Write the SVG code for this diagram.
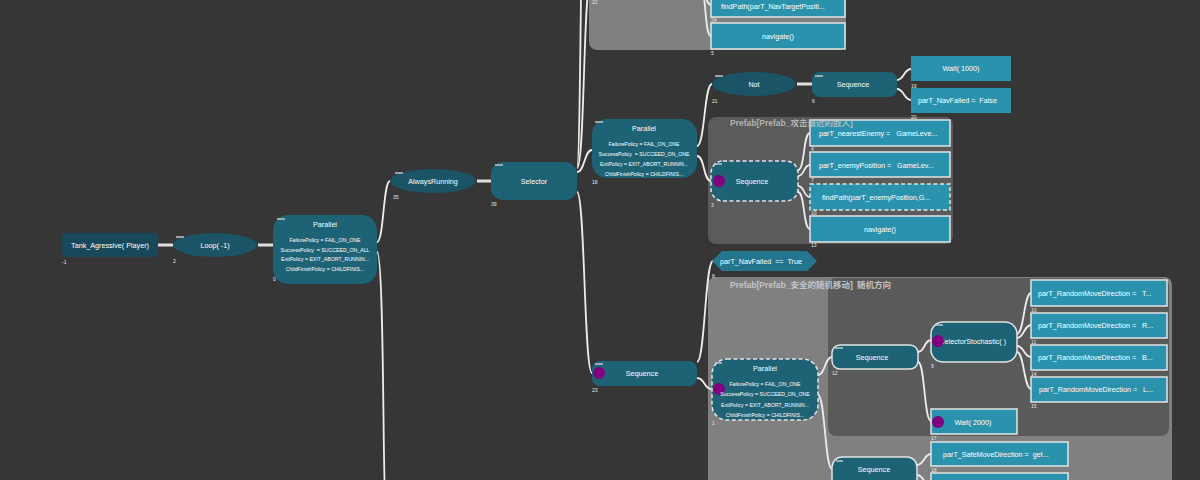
<svg xmlns="http://www.w3.org/2000/svg" width="1200" height="480" viewBox="0 0 1200 480" xml:space="preserve">
<style>
.comp{fill:#1e6276}
.ell{fill:#1b5466}
.act{fill:#2b92ae}
.bd{stroke:#e4e4e4;stroke-width:1.5}
.dash{stroke:#e4e4e4;stroke-width:1.5;stroke-dasharray:4 2.5}
.t{fill:#fff;font-family:"Liberation Sans",Arial,sans-serif;font-size:7.2px;text-anchor:middle;dominant-baseline:central;white-space:pre}
.tl{fill:#fff;font-family:"Liberation Sans",Arial,sans-serif;font-size:7.2px;dominant-baseline:central;white-space:pre}
.p{fill:#fff;font-family:"Liberation Sans",Arial,sans-serif;font-size:5.2px;text-anchor:middle;dominant-baseline:central;white-space:pre}
.n{fill:#e8e8e8;font-family:"Liberation Sans",Arial,sans-serif;font-size:5px}
.bar{stroke:#d8d8d8;stroke-width:1.3}
.dot{fill:#800080}
.ttl{fill:#c4c4c4;font-family:"Liberation Sans","Noto Sans CJK SC",sans-serif;font-size:8.5px;font-weight:bold;dominant-baseline:central}
.c{fill:none;stroke:#ececec;stroke-width:1.8}
.h{fill:none;stroke:#e0e0e0;stroke-width:3}
</style>
<rect width="1200" height="480" fill="#363636"/>

<!-- prefab backgrounds -->
<g id="prefab-top">
<rect x="589" y="-20" width="257" height="70" rx="8" fill="#808080"/>
<text class="n" x="592" y="4">22</text>
</g>
<g id="prefab-attack">
<rect x="708" y="117" width="245" height="127" rx="8" fill="#5b5b5b"/>
</g>
<g id="prefab-safe">
<rect x="708" y="277" width="464" height="220" rx="8" fill="#808080"/>
<rect x="828" y="278" width="341" height="158" rx="8" fill="#5a5a5a"/>
</g>

<g id="connectors">
<path class="h" d="M158,245 H173"/>
<path class="h" d="M258,245 H273"/>
<path class="h" d="M477,181 H491"/>
<path class="h" d="M797,84 H812"/>
<path class="c" d="M377,242 C384,242 383,181 390,181"/>
<path class="c" d="M377,252 C384,252 383,480 385,490"/>
<path class="c" d="M577,168 C585,168 583,-20 591,-20"/>
<path class="c" d="M577,166 C582,166 580,-300 591,-300"/>
<path class="c" d="M577,172 C585,172 584,150 592,150"/>
<path class="c" d="M577,192 C585,192 584,373 592,373"/>
<path class="c" d="M700,-14 C706,-14 705,5 711,5"/>
<path class="c" d="M700,-12 C707,-12 704,36 711,36"/>
<path class="c" d="M697,146 C705,146 704,84 712,84"/>
<path class="c" d="M697,156 C705,156 703,181 711,181"/>
<path class="c" d="M897,80 C904,80 904,69 911,69"/>
<path class="c" d="M897,89 C904,89 904,100 911,100"/>
<path class="c" d="M798,170 C805,170 803,133 810,133"/>
<path class="c" d="M798,176 C805,176 803,165 810,165"/>
<path class="c" d="M798,186 C805,186 803,197 810,197"/>
<path class="c" d="M798,192 C805,192 803,229 810,229"/>
<path class="c" d="M697,362 C705,362 705,261 713,261"/>
<path class="c" d="M697,378 C705,378 704,389 711,389"/>
<path class="c" d="M818,375 C825,375 825,357 832,357"/>
<path class="c" d="M818,395 C825,395 825,469 832,469"/>
<path class="c" d="M918,352 C925,352 924,340 931,340"/>
<path class="c" d="M918,362 C925,362 924,421 931,421"/>
<path class="c" d="M1017,334 C1024,334 1024,293 1031,293"/>
<path class="c" d="M1017,338 C1024,338 1024,325 1031,325"/>
<path class="c" d="M1017,346 C1024,346 1024,357 1031,357"/>
<path class="c" d="M1017,352 C1024,352 1024,389 1031,389"/>
<path class="c" d="M917,465 C924,465 924,454 931,454"/>
<path class="c" d="M917,475 C924,475 924,486 931,486"/>
</g>

<g id="n-tank">
<rect x="62" y="233" width="96" height="24" rx="5" fill="#17495a"/>
<text class="t" x="110" y="245">Tank_Agressive( Player)</text>
<text class="n" x="62" y="264">-1</text>
</g>
<g id="n-loop">
<ellipse cx="215" cy="245" rx="42" ry="12" class="ell"/>
<line class="bar" x1="176" y1="237" x2="184" y2="237"/>
<text class="t" x="215" y="245">Loop( -1)</text>
<text class="n" x="173" y="263">2</text>
</g>
<g id="n-parallel0">
<rect x="273" y="215" width="104" height="69" rx="15" class="comp"/>
<line class="bar" x1="277" y1="219" x2="285" y2="219"/>
<text class="t" x="325" y="224">Parallel</text>
<text class="p" x="325" y="240">FailurePolicy = FAIL_ON_ONE</text>
<text class="p" x="325" y="250">SuccessPolicy  = SUCCEED_ON_ALL</text>
<text class="p" x="325" y="259">ExitPolicy = EXIT_ABORT_RUNNIN...</text>
<text class="p" x="325" y="269">ChildFinishPolicy = CHILDFINIS...</text>
<text class="n" x="273" y="281">0</text>
</g>
<g id="n-alwaysrunning">
<ellipse cx="433" cy="181" rx="43" ry="12" class="ell"/>
<line class="bar" x1="395" y1="173" x2="403" y2="173"/>
<text class="t" x="433" y="181">AlwaysRunning</text>
<text class="n" x="393" y="199">35</text>
</g>
<g id="n-selector">
<rect x="491" y="162" width="86" height="38" rx="12" class="comp"/>
<line class="bar" x1="495" y1="165" x2="503" y2="165"/>
<text class="t" x="534" y="181">Selector</text>
<text class="n" x="491" y="206">39</text>
</g>

<g id="n-findpath24">
<rect x="711" y="-10" width="134" height="27" class="act bd"/>
<text class="tl" x="721" y="6">findPath(parT_NavTargetPositi...</text>
<text class="n" x="711" y="22">24</text>
</g>
<g id="n-navigate5">
<rect x="711" y="23" width="134" height="26" class="act bd"/>
<text class="t" x="778" y="36">navigate()</text>
<text class="n" x="711" y="55">5</text>
</g>

<g id="n-not">
<ellipse cx="754" cy="84" rx="42" ry="12" class="ell"/>
<line class="bar" x1="715" y1="76" x2="723" y2="76"/>
<text class="t" x="754" y="84">Not</text>
<text class="n" x="712" y="103">21</text>
</g>
<g id="n-seq6">
<rect x="812" y="72" width="85" height="25" rx="8" class="comp"/>
<line class="bar" x1="815" y1="76" x2="823" y2="76"/>
<text class="t" x="853" y="84">Sequence</text>
<text class="n" x="812" y="103">6</text>
</g>
<g id="n-wait1000">
<rect x="911" y="56" width="100" height="25" class="act"/>
<text class="t" x="961" y="68">Wait( 1000)</text>
<text class="n" x="911" y="88">19</text>
</g>
<g id="n-navfailedfalse">
<rect x="911" y="88" width="100" height="25" class="act"/>
<text class="tl" x="918" y="100">parT_NavFailed =  False</text>
<text class="n" x="911" y="119">20</text>
</g>

<g id="n-parallel18">
<rect x="592" y="119" width="105" height="59" rx="15" class="comp"/>
<line class="bar" x1="595" y1="122" x2="603" y2="122"/>
<text class="t" x="644" y="128">Parallel</text>
<text class="p" x="644" y="144">FailurePolicy = FAIL_ON_ONE</text>
<text class="p" x="644" y="154">SuccessPolicy  = SUCCEED_ON_ONE</text>
<text class="p" x="644" y="164">ExitPolicy = EXIT_ABORT_RUNNIN...</text>
<text class="p" x="644" y="174">ChildFinishPolicy = CHILDFINIS...</text>
<text class="n" x="592" y="184">18</text>
</g>
<g id="n-seq3">
<rect x="711" y="161" width="87" height="40" rx="12" class="comp dash"/>
<line class="bar" x1="714" y1="164" x2="722" y2="164"/>
<circle cx="719" cy="181" r="6" class="dot"/>
<text class="t" x="752" y="181">Sequence</text>
<text class="n" x="711" y="207">3</text>
</g>
<g id="n-nearestenemy">
<rect x="810" y="120" width="140" height="26" class="act bd"/>
<text class="tl" x="819" y="133">parT_nearestEnemy =   GameLeve...</text>
<text class="n" x="811" y="151">4</text>
</g>
<g id="n-enemyposition">
<rect x="810" y="152" width="140" height="25" class="act bd"/>
<text class="tl" x="819" y="165">parT_enemyPosition =   GameLev...</text>
<text class="n" x="811" y="182">7</text>
</g>
<g id="n-findpath10">
<rect x="810" y="184" width="140" height="26" class="act dash"/>
<text class="tl" x="822" y="197">findPath(parT_enemyPosition,G...</text>
<text class="n" x="811" y="215">10</text>
</g>
<g id="n-navigate13">
<rect x="810" y="216" width="140" height="26" class="act bd"/>
<text class="t" x="880" y="229">navigate()</text>
<text class="n" x="811" y="247">13</text>
</g>

<g id="n-navfailedtrue">
<polygon points="712,261 722,251 807,251 817,261 807,271 722,271" fill="#23768d"/>
<text class="tl" x="720" y="261">parT_NavFailed  ==  True</text>
<text class="n" x="712" y="278">8</text>
</g>
<g id="n-seq23">
<rect x="592" y="361" width="105" height="25" rx="8" class="comp"/>
<line class="bar" x1="595" y1="364" x2="603" y2="364"/>
<circle cx="599" cy="373" r="6" class="dot"/>
<text class="t" x="642" y="373">Sequence</text>
<text class="n" x="592" y="392">23</text>
</g>
<g id="n-parallel1">
<rect x="712" y="359" width="106" height="61" rx="15" class="comp dash"/>
<line class="bar" x1="715" y1="363" x2="722" y2="363"/>
<circle cx="719" cy="389" r="6" class="dot"/>
<text class="t" x="765" y="368">Parallel</text>
<text class="p" x="765" y="384">FailurePolicy = FAIL_ON_ONE</text>
<text class="p" x="765" y="394">SuccessPolicy = SUCCEED_ON_ONE</text>
<text class="p" x="765" y="405">ExitPolicy = EXIT_ABORT_RUNNIN...</text>
<text class="p" x="765" y="415">ChildFinishPolicy = CHILDFINIS...</text>
<text class="n" x="712" y="425">1</text>
</g>
<g id="n-seq12">
<rect x="832" y="345" width="86" height="24" rx="8" class="comp bd"/>
<line class="bar" x1="835" y1="348" x2="843" y2="348"/>
<text class="t" x="872" y="357">Sequence</text>
<text class="n" x="832" y="375">12</text>
</g>
<g id="n-selstoch">
<rect x="931" y="322" width="86" height="40" rx="12" class="comp bd"/>
<line class="bar" x1="935" y1="325" x2="943" y2="325"/>
<text class="t" x="973" y="341">SelectorStochastic( )</text>
<circle cx="938" cy="341" r="6" class="dot"/>
<text class="n" x="931" y="368">9</text>
</g>
<g id="n-wait2000">
<rect x="931" y="409" width="86" height="25" class="act bd"/>
<circle cx="938" cy="422" r="6" class="dot"/>
<text class="t" x="973" y="422">Wait( 2000)</text>
<text class="n" x="931" y="440">17</text>
</g>
<g id="n-rmd-t">
<rect x="1031" y="280" width="136" height="26" class="act bd"/>
<text class="tl" x="1038" y="293">parT_RandomMoveDirection =   T...</text>
<text class="n" x="1031" y="312">10</text>
</g>
<g id="n-rmd-r">
<rect x="1031" y="313" width="136" height="25" class="act bd"/>
<text class="tl" x="1038" y="325">parT_RandomMoveDirection =   R...</text>
<text class="n" x="1031" y="344">11</text>
</g>
<g id="n-rmd-b">
<rect x="1031" y="345" width="136" height="25" class="act bd"/>
<text class="tl" x="1038" y="357">parT_RandomMoveDirection =   B...</text>
<text class="n" x="1031" y="376">14</text>
</g>
<g id="n-rmd-l">
<rect x="1031" y="377" width="136" height="25" class="act bd"/>
<text class="tl" x="1039" y="389">parT_RandomMoveDirection =   L...</text>
<text class="n" x="1031" y="408">15</text>
</g>
<g id="n-seqbottom">
<rect x="832" y="457" width="85" height="40" rx="10" class="comp bd"/>
<line class="bar" x1="836" y1="461" x2="843" y2="461"/>
<text class="t" x="874" y="469">Sequence</text>
</g>
<g id="n-safemove">
<rect x="931" y="442" width="137" height="24" class="act bd"/>
<text class="tl" x="943" y="454">parT_SafeMoveDirection =  get...</text>
<text class="n" x="931" y="472">18</text>
</g>
<g id="n-safemove2">
<rect x="931" y="473" width="137" height="25" class="act bd"/>
</g>

<g id="prefab-titles">
<text class="ttl" x="730" y="123" fill-opacity="0.85">Prefab[Prefab_攻击最近的敌人]</text>
<text class="ttl" x="730" y="285">Prefab[Prefab_安全的随机移动]</text>
<text class="ttl" x="857" y="285">随机方向</text>
</g>
</svg>
